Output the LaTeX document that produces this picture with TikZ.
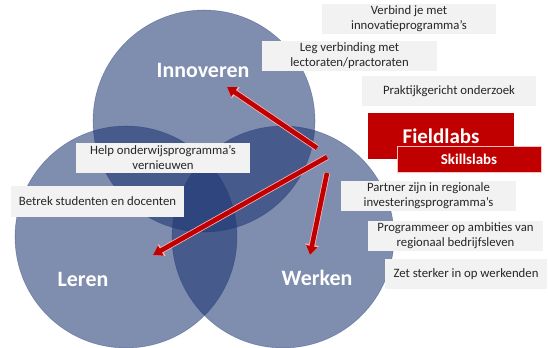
\documentclass[tikz,border=0pt]{standalone}
\usepackage{fontspec}
\setmainfont{Carlito}
\usetikzlibrary{arrows.meta}
\definecolor{circ}{RGB}{26,51,113}
\definecolor{boxgray}{RGB}{242,242,242}
\definecolor{darkred}{RGB}{192,0,0}
\definecolor{txt}{RGB}{38,38,38}
\tikzset{
  venn/.style={fill=circ, fill opacity=0.56, draw=circ, draw opacity=0.35, line width=0.6bp},
  graybox/.style={fill=boxgray, text=txt, inner sep=0pt, align=center, font=\fontsize{12.8}{15}\selectfont, minimum height=30bp},
  redbox/.style={fill=darkred, text=white, inner sep=0pt, align=center, font=\bfseries},
  biglabel/.style={text=white, font=\fontsize{22}{26}\selectfont\bfseries, anchor=base, inner sep=0pt},
  redarrow/.style={draw=darkred, line width=4.6bp, -{Triangle[length=9bp,width=11bp]}},
  redglow/.style={draw=red!30, line width=6.2bp, -{Triangle[length=10.5bp,width=13bp]}}
}
\begin{document}
\begin{tikzpicture}[x=1bp,y=-1bp]
\useasboundingbox (0,0) rectangle (548,347);
% circles
\path[venn] (204,121) circle[radius=111bp];
\path[venn] (126,237) circle[radius=111bp];
\path[venn] (283,237) circle[radius=111bp];
% gray boxes
\node[graybox, minimum width=174bp] (verbind) at (409,19) {Verbind je met\\innovatieprogramma’s};
\node[graybox, minimum width=175bp] (leg) at (349.5,55.5) {Leg verbinding met\\lectoraten/practoraten};
\node[graybox, minimum width=174bp] (prak) at (449,91) {Praktijkgericht onderzoek};
\node[graybox, minimum width=174bp] (help) at (163,158) {Help onderwijsprogramma’s\\vernieuwen};
\node[graybox, minimum width=173bp, minimum height=31bp] (betrek) at (97.5,201.5) {Betrek studenten en docenten};
\node[graybox, minimum width=175bp] (partner) at (428.5,196) {Partner zijn in regionale\\investeringsprogramma’s};
\node[graybox, minimum width=175bp] (prog) at (455.5,236) {Programmeer op ambities van\\regionaal bedrijfsleven};
\node[graybox, minimum width=162bp] (zet) at (466,274) {Zet sterker in op werkenden};
% red boxes
\node[redbox, minimum width=146bp, minimum height=46bp, font=\fontsize{21}{24}\selectfont\bfseries] (field) at (441,136) {Fieldlabs};
\node[redbox, minimum width=144bp, minimum height=26bp, draw=red!25, line width=0.8bp, font=\fontsize{15}{18}\selectfont\bfseries] (skills) at (469,159) {Skillslabs};
% labels
\node[biglabel] (innov) at (203,77) {Innoveren};
\node[biglabel] (leren) at (83,286) {Leren};
\node[biglabel] (werken) at (317,285) {Werken};
% arrows
\coordinate (a1s) at (317,148); \coordinate (a1e) at (227,87);
\coordinate (a2s) at (327,157); \coordinate (a2e) at (153,255);
\coordinate (a3s) at (327,173); \coordinate (a3e) at (310,255);
\draw[redglow] (a1s) -- (a1e);
\draw[redglow] (a2s) -- (a2e);
\draw[redglow] (a3s) -- (a3e);
\draw[redarrow] (a1s) -- (a1e);
\draw[redarrow] (a2s) -- (a2e);
\draw[redarrow] (a3s) -- (a3e);
\end{tikzpicture}
\end{document}
